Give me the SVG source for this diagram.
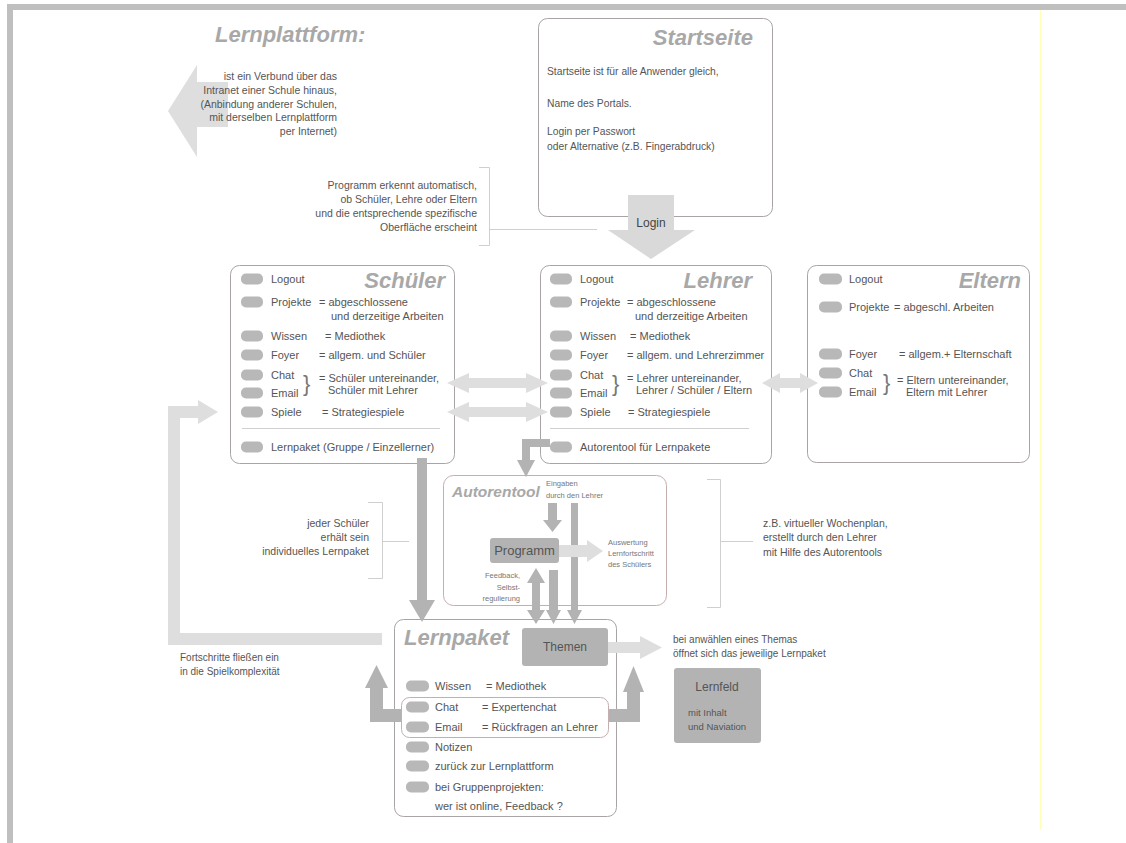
<svg xmlns="http://www.w3.org/2000/svg" width="1126" height="843" viewBox="0 0 1126 843">
<style>
  text { font-family: "Liberation Sans", Arial, sans-serif; fill: #555; }
  .title { font-weight: bold; font-style: italic; font-size: 22px; fill: #a8a8a8; }
  .box { fill: #fff; stroke: #a9a4a4; stroke-width: 1; }
  .boxr { fill: none; stroke: #c4aeae; stroke-width: 1; }
  .pill { fill: #b8b8b8; }
  .it { font-size: 11px; }
  .note { font-size: 10.5px; }
  .small { font-size: 7.5px; fill: #777; }
  .brace { font-size: 22px; fill: #777; }
  .dark { fill: #b3b3b3; }
  .light { fill: #dedede; }
  .br { fill: none; stroke: #cfcfcf; stroke-width: 1; }
  .gbox { fill: #b3b3b3; }
</style>

<!-- frame -->
<g id="frame">
  <rect x="7" y="4" width="1119" height="6" fill="#bfbfbf"/>
  <rect x="7" y="4" width="6" height="839" fill="#bfbfbf"/>
  <line x1="1040.5" y1="10" x2="1040.5" y2="830" stroke="#ffffb8" stroke-width="1"/>
</g>

<!-- Startseite -->
<g id="startseite">
  <rect class="box" x="538.5" y="18.5" width="234" height="198" rx="9"/>
  <text class="title" x="753" y="45" text-anchor="end">Startseite</text>
  <text style="font-size:10.3px" x="547" y="75">Startseite ist für alle Anwender gleich,</text>
  <text style="font-size:10.3px" x="547" y="107">Name des Portals.</text>
  <text style="font-size:10.3px" x="547" y="135">Login per Passwort</text>
  <text style="font-size:10.3px" x="547" y="150">oder Alternative (z.B. Fingerabdruck)</text>
</g>

<!-- Schüler -->
<g id="schueler">
  <rect class="box" x="230.5" y="265.5" width="224" height="198" rx="9"/>
  <text class="title" x="445" y="288" text-anchor="end">Schüler</text>
  <rect class="pill" x="241" y="273.5" width="22" height="11" rx="5"/>
  <text class="it" x="271" y="283">Logout</text>
  <rect class="pill" x="241" y="296.5" width="22" height="11" rx="5"/>
  <text class="it" x="271" y="306">Projekte</text>
  <text class="it" x="319" y="306">= abgeschlossene</text>
  <text class="it" x="331" y="320">und derzeitige Arbeiten</text>
  <rect class="pill" x="241" y="330.5" width="22" height="11" rx="5"/>
  <text class="it" x="271" y="340">Wissen</text>
  <text class="it" x="325" y="340">= Mediothek</text>
  <rect class="pill" x="241" y="349.5" width="22" height="11" rx="5"/>
  <text class="it" x="271" y="359">Foyer</text>
  <text class="it" x="319" y="359">= allgem. und Schüler</text>
  <rect class="pill" x="241" y="369.5" width="22" height="11" rx="5"/>
  <text class="it" x="271" y="379">Chat</text>
  <rect class="pill" x="241" y="387.5" width="22" height="11" rx="5"/>
  <text class="it" x="271" y="397">Email</text>
  <text class="brace" x="303" y="391">}</text>
  <text class="it" x="319" y="382">= Schüler untereinander,</text>
  <text class="it" x="328" y="394">Schüler mit Lehrer</text>
  <rect class="pill" x="241" y="406.5" width="22" height="11" rx="5"/>
  <text class="it" x="271" y="416">Spiele</text>
  <text class="it" x="322" y="416">= Strategiespiele</text>
  <line x1="242" y1="428.5" x2="440" y2="428.5" stroke="#d0d0d0"/>
  <rect class="pill" x="241" y="441.5" width="22" height="11" rx="5"/>
  <text class="it" x="271" y="451">Lernpaket (Gruppe / Einzellerner)</text>
</g>

<!-- Lehrer -->
<g id="lehrer">
  <rect class="box" x="540.5" y="265.5" width="231" height="198" rx="9"/>
  <text class="title" x="752" y="288" text-anchor="end">Lehrer</text>
  <rect class="pill" x="550" y="273.5" width="22" height="11" rx="5"/>
  <text class="it" x="580" y="283">Logout</text>
  <rect class="pill" x="550" y="296.5" width="22" height="11" rx="5"/>
  <text class="it" x="580" y="306">Projekte</text>
  <text class="it" x="627" y="306">= abgeschlossene</text>
  <text class="it" x="635" y="320">und derzeitige Arbeiten</text>
  <rect class="pill" x="550" y="330.5" width="22" height="11" rx="5"/>
  <text class="it" x="580" y="340">Wissen</text>
  <text class="it" x="630" y="340">= Mediothek</text>
  <rect class="pill" x="550" y="349.5" width="22" height="11" rx="5"/>
  <text class="it" x="580" y="359">Foyer</text>
  <text class="it" x="627" y="359">= allgem. und Lehrerzimmer</text>
  <rect class="pill" x="550" y="369.5" width="22" height="11" rx="5"/>
  <text class="it" x="580" y="379">Chat</text>
  <rect class="pill" x="550" y="387.5" width="22" height="11" rx="5"/>
  <text class="it" x="580" y="397">Email</text>
  <text class="brace" x="612" y="391">}</text>
  <text class="it" x="627" y="382">= Lehrer untereinander,</text>
  <text class="it" x="636" y="394">Lehrer / Schüler / Eltern</text>
  <rect class="pill" x="550" y="406.5" width="22" height="11" rx="5"/>
  <text class="it" x="580" y="416">Spiele</text>
  <text class="it" x="628" y="416">= Strategiespiele</text>
  <line x1="550" y1="428.5" x2="749" y2="428.5" stroke="#d0d0d0"/>
  <rect class="pill" x="550" y="441.5" width="22" height="11" rx="5"/>
  <text class="it" x="580" y="451">Autorentool für Lernpakete</text>
</g>

<!-- Eltern -->
<g id="eltern">
  <rect class="box" x="807.5" y="265.5" width="222" height="197" rx="9"/>
  <text class="title" x="1021" y="288" text-anchor="end">Eltern</text>
  <rect class="pill" x="819" y="273.5" width="23" height="11" rx="5"/>
  <text class="it" x="849" y="283">Logout</text>
  <rect class="pill" x="819" y="301.5" width="23" height="11" rx="5"/>
  <text class="it" x="849" y="311">Projekte</text>
  <text class="it" x="894" y="311">= abgeschl. Arbeiten</text>
  <rect class="pill" x="819" y="348.5" width="23" height="11" rx="5"/>
  <text class="it" x="849" y="358">Foyer</text>
  <text class="it" x="899" y="358">= allgem.+ Elternschaft</text>
  <rect class="pill" x="819" y="367.5" width="23" height="11" rx="5"/>
  <text class="it" x="849" y="377">Chat</text>
  <rect class="pill" x="819" y="386.5" width="23" height="11" rx="5"/>
  <text class="it" x="849" y="396">Email</text>
  <text class="brace" x="883" y="390">}</text>
  <text class="it" x="897" y="384">= Eltern untereinander,</text>
  <text class="it" x="906" y="396">Eltern mit Lehrer</text>
</g>

<!-- Autorentool -->
<g id="autorentool">
  <rect class="boxr" x="443.5" y="475.5" width="223" height="130" rx="10"/>
  <text class="title" style="font-size:15.5px" x="452" y="497">Autorentool</text>
  <text class="small" x="546" y="486">Eingaben</text>
  <text class="small" x="546" y="498">durch den Lehrer</text>
  <text class="small" x="608" y="545">Auswertung</text>
  <text class="small" x="608" y="556">Lernfortschritt</text>
  <text class="small" x="608" y="567">des Schülers</text>
  <text class="small" x="520" y="578" text-anchor="end">Feedback,</text>
  <text class="small" x="520" y="590" text-anchor="end">Selbst-</text>
  <text class="small" x="520" y="601" text-anchor="end">regulierung</text>
</g>

<g id="programm">
  <rect class="gbox" x="490" y="538" width="69" height="25" rx="3"/>
  <text x="524.5" y="555" text-anchor="middle" style="font-size:13px">Programm</text>
</g>

<!-- Lernpaket -->
<g id="lernpaket">
  <rect class="box" x="394.5" y="619.5" width="222" height="197" rx="9"/>
  <text class="title" x="404" y="645">Lernpaket</text>
  <rect class="pill" x="406" y="680.5" width="23" height="11" rx="5"/>
  <text class="it" x="435" y="690">Wissen</text>
  <text class="it" x="486" y="690">= Mediothek</text>
  <rect class="boxr" x="401.5" y="697.5" width="207" height="40" rx="8"/>
  <rect class="pill" x="406" y="701.5" width="23" height="11" rx="5"/>
  <text class="it" x="435" y="711">Chat</text>
  <text class="it" x="482" y="711">= Expertenchat</text>
  <rect class="pill" x="406" y="721.5" width="23" height="11" rx="5"/>
  <text class="it" x="435" y="731">Email</text>
  <text class="it" x="482" y="731">= Rückfragen an Lehrer</text>
  <rect class="pill" x="406" y="741.5" width="23" height="11" rx="5"/>
  <text class="it" x="435" y="751">Notizen</text>
  <rect class="pill" x="406" y="760.5" width="23" height="11" rx="5"/>
  <text class="it" x="435" y="770">zurück zur Lernplattform</text>
  <rect class="pill" x="406" y="781.5" width="23" height="11" rx="5"/>
  <text class="it" x="435" y="791">bei Gruppenprojekten:</text>
  <text class="it" x="435" y="810">wer ist online, Feedback ?</text>
</g>

<g id="themen">
  <rect class="gbox" x="522" y="628" width="86" height="38" rx="3"/>
  <text x="565" y="651" text-anchor="middle" style="font-size:12px">Themen</text>
</g>

<g id="lernfeld">
  <rect class="gbox" x="674" y="668" width="87" height="75" rx="3"/>
  <text x="717" y="691" text-anchor="middle" style="font-size:12px">Lernfeld</text>
  <text x="688" y="716" style="font-size:9.5px">mit Inhalt</text>
  <text x="688" y="730" style="font-size:9.5px">und Naviation</text>
</g>

<!-- connectors -->
<g id="connectors">
  <!-- Lernplattform left arrow -->
  <polygon class="light" points="168,111 197,65 197,82 228,82 228,127 197,127 197,157"/>
  <!-- Login arrow -->
  <polygon fill="#d9d9d9" points="628,195 674,195 674,230 695,230 651,259 608,230 628,230"/>
  <!-- Schüler <-> Lehrer -->
  <polygon class="light" points="447,383 469,373 469,378 526,378 526,373 548,383 526,393 526,388 469,388 469,393"/>
  <polygon class="light" points="447,412 469,402 469,407 526,407 526,402 548,412 526,422 526,417 469,417 469,422"/>
  <!-- Lehrer <-> Eltern -->
  <polygon class="light" points="762,383 780,373 780,378 800,378 800,373 818,383 800,393 800,388 780,388 780,393"/>
  <!-- Feedback loop -->
  <polygon class="light" points="168,645 382,645 382,633 180,633 180,418 198,418 198,424 218,412 198,400 198,406 168,406"/>
  <!-- Schüler Lernpaket down -->
  <polygon class="dark" points="417,458 427,458 427,600 435,600 422,622 409,600 417,600"/>
  <!-- Lehrer Autorentool L -->
  <polygon class="dark" points="550,439 522,439 522,460 517,460 526,477 535,460 530,460 530,447 550,447"/>
  <!-- Eingaben to Programm -->
  <polygon class="dark" points="548,503 557,503 557,520 562,520 552.5,532 543,520 548,520"/>
  <!-- Eingaben long to Themen -->
  <polygon class="dark" points="571,503 578,503 578,610 582,610 574.5,624 567,610 571,610"/>
  <!-- Programm to Themen -->
  <polygon class="dark" points="549,570 558,570 558,610 561,610 553.5,624 546,610 549,610"/>
  <!-- Feedback double -->
  <polygon class="dark" points="536,568 545,583 540,583 540,610 545,610 536,624 527,610 532,610 532,583 527,583"/>
  <!-- Programm to Auswertung -->
  <polygon class="light" points="559,545 587,545 587,540 603,551 587,562 587,557 559,557"/>
  <!-- Themen to Lernfeld text -->
  <polygon class="light" points="608,642 640,642 640,636 662,647.5 640,659 640,653 608,653"/>
  <!-- inner rect arrows -->
  <polygon class="dark" points="401,709 383,709 383,688 388,688 376.5,665 365,688 370,688 370,722 401,722"/>
  <polygon class="dark" points="609,709 627,709 627,692 623,692 633.5,666 644,692 640,692 640,722 609,722"/>
  <!-- brackets -->
  <polyline class="br" points="479,167.5 489.5,167.5 489.5,245.5 479,245.5"/>
  <line class="br" x1="489.5" y1="229.5" x2="597" y2="229.5"/>
  <polyline class="br" points="368,502.5 382.5,502.5 382.5,578.5 368,578.5"/>
  <line class="br" x1="382.5" y1="541.5" x2="409" y2="541.5" stroke="#d8c0c0"/>
  <polyline class="br" points="707,479.5 720.5,479.5 720.5,607.5 707,607.5"/>
  <line class="br" x1="720.5" y1="541.5" x2="753" y2="541.5"/>
</g>

<!-- annotations -->
<g id="lernplattform">
  <text class="title" x="215" y="42">Lernplattform:</text>
  <text class="note" x="337" y="80" text-anchor="end">ist ein Verbund über das</text>
  <text class="note" x="337" y="94" text-anchor="end">Intranet einer Schule hinaus,</text>
  <text class="note" x="337" y="108" text-anchor="end">(Anbindung anderer Schulen,</text>
  <text class="note" x="337" y="121" text-anchor="end">mit derselben Lernplattform</text>
  <text class="note" x="337" y="135" text-anchor="end">per Internet)</text>
</g>

<g id="note-programm">
  <text class="note" x="477" y="189" text-anchor="end">Programm erkennt automatisch,</text>
  <text class="note" x="477" y="203" text-anchor="end">ob Schüler, Lehre oder Eltern</text>
  <text class="note" x="477" y="217" text-anchor="end">und die entsprechende spezifische</text>
  <text class="note" x="477" y="231" text-anchor="end">Oberfläche erscheint</text>
</g>

<g id="login-label">
  <text x="651" y="227" text-anchor="middle" style="font-size:12px;fill:#444">Login</text>
</g>

<g id="note-schueler">
  <text class="note" x="369" y="527" text-anchor="end">jeder Schüler</text>
  <text class="note" x="369" y="541" text-anchor="end">erhält sein</text>
  <text class="note" x="369" y="555" text-anchor="end">individuelles Lernpaket</text>
</g>

<g id="note-wochenplan">
  <text class="note" x="763" y="527">z.B. virtueller Wochenplan,</text>
  <text class="note" x="763" y="541">erstellt durch den Lehrer</text>
  <text class="note" x="763" y="556">mit Hilfe des Autorentools</text>
</g>

<g id="note-fortschritte">
  <text style="font-size:10px" x="180" y="661">Fortschritte fließen ein</text>
  <text style="font-size:10px" x="180" y="675">in die Spielkomplexität</text>
</g>

<g id="note-themen">
  <text style="font-size:10px" x="673" y="643">bei anwählen eines Themas</text>
  <text style="font-size:10px" x="673" y="657">öffnet sich das jeweilige Lernpaket</text>
</g>
</svg>
